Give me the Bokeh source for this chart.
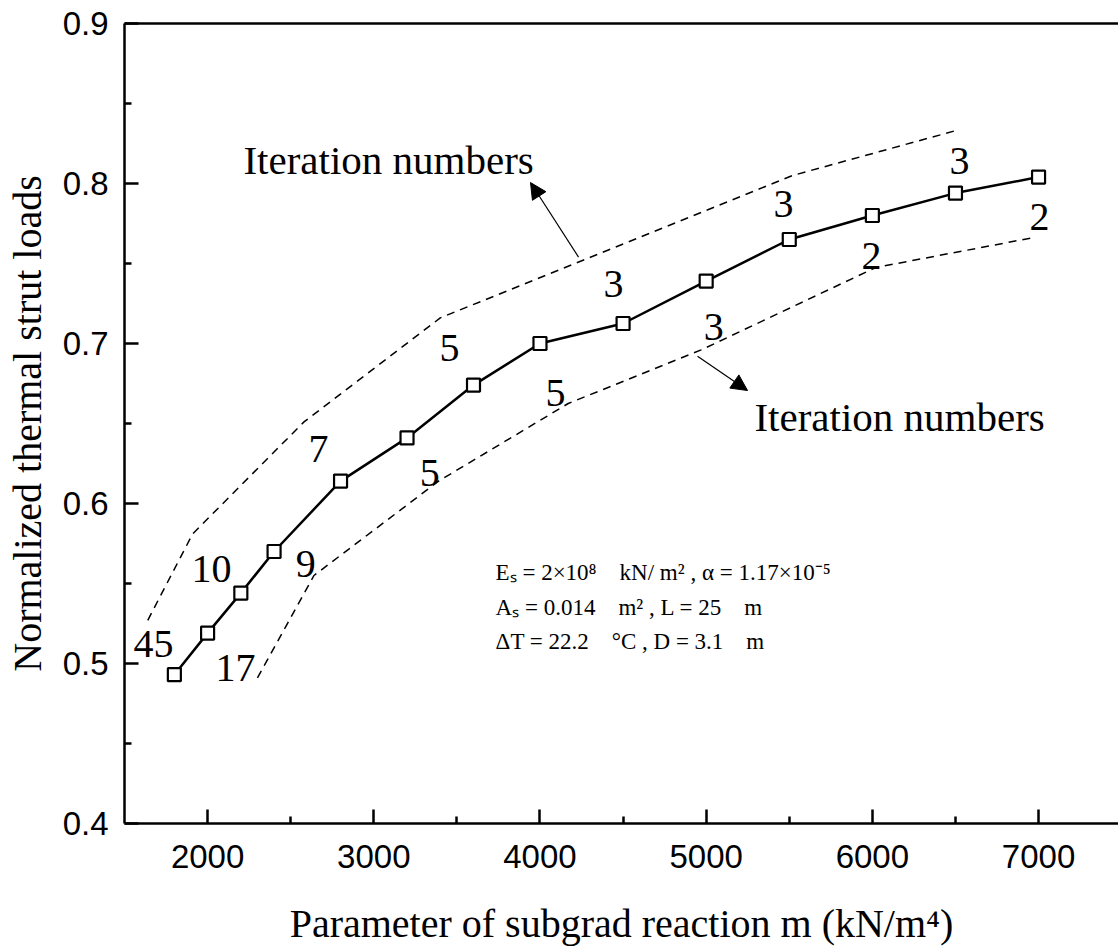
from bokeh.plotting import figure
from bokeh.models import (Range1d, FixedTicker, LinearAxis, Arrow, NormalHead,
                          ColumnDataSource)
from bokeh.core.properties import value
from bokeh.embed import file_html
from bokeh.resources import INLINE

# ---- data ----
m_values = [1800, 2000, 2200, 2400, 2800, 3200, 3600, 4000, 4500, 5000, 5500, 6000, 6500, 7000]
strut_loads = [0.493, 0.519, 0.544, 0.570, 0.614, 0.641, 0.674, 0.700, 0.7125, 0.739,
               0.765, 0.780, 0.794, 0.804]

upper_x = [1640, 1910, 2580, 3400, 5520, 6500]
upper_y = [0.527, 0.581, 0.651, 0.716, 0.805, 0.833]

lower_x = [2300, 2640, 3390, 4170, 4970, 6020, 6960]
lower_y = [0.491, 0.555, 0.614, 0.6625, 0.696, 0.7475, 0.766]

upper_iter_x = [1675, 2024, 2668, 3456, 4443, 5465, 6525]
upper_iter_y = [0.512, 0.559, 0.634, 0.6975, 0.7375, 0.7875, 0.814]
upper_iter_txt = ["45", "10", "7", "5", "3", "3", "3"]

lower_iter_x = [2168, 2590, 3336, 4094, 5045, 5995, 7006]
lower_iter_y = [0.4975, 0.562, 0.619, 0.669, 0.7106, 0.7544, 0.779]
lower_iter_txt = ["17", "9", "5", "5", "3", "2", "2"]

annot_text = ["Iteration numbers", "Iteration numbers"]
annot_x = [3089, 6164]
annot_y = [0.8144, 0.654]

arrow_start_x = [4232, 4948]
arrow_start_y = [0.754, 0.692]
arrow_end_x = [3943, 5249]
arrow_end_y = [0.8006, 0.6706]

NB = "\u00a0"
formula_lines = ["E\u209b = 2\u00d710\u2078" + NB * 4 + "kN/ m\u00b2 , \u03b1 = 1.17\u00d710\u207b\u2075",
                 "A\u209b = 0.014" + NB * 4 + "m\u00b2 , L = 25" + NB * 4 + "m",
                 "\u0394T = 22.2" + NB * 4 + "\u00b0C , D = 3.1" + NB * 4 + "m"]
formula_x = [3733, 3733, 3733]
formula_y = [0.5569, 0.535, 0.5138]

x_ticks = [2000, 3000, 4000, 5000, 6000, 7000]
x_minor = [2500, 3500, 4500, 5500, 6500]
y_ticks = [0.4, 0.5, 0.6, 0.7, 0.8, 0.9]
y_minor = [0.45, 0.55, 0.65, 0.75, 0.85]

SERIF = "Liberation Serif"
SANS = "Liberation Sans"

p = figure(width=1118, height=949, output_backend="svg", toolbar_location=None,
           x_range=Range1d(1500, 7481), y_range=Range1d(0.4, 0.9),
           min_border_left=124, min_border_right=0, min_border_top=23, min_border_bottom=126)
p.outline_line_color = None
p.grid.visible = False
p.background_fill_color = "white"
p.border_fill_color = "white"

for ax, ticks, minor in ((p.xaxis[0], x_ticks, x_minor), (p.yaxis[0], y_ticks, y_minor)):
    ax.ticker = FixedTicker(ticks=ticks, minor_ticks=minor)
    ax.axis_line_width = 2.5
    ax.major_tick_line_width = 2.5
    ax.minor_tick_line_width = 2.5
    ax.major_tick_in = 14
    ax.major_tick_out = 0
    ax.minor_tick_in = 7
    ax.minor_tick_out = 0
    ax.major_label_text_font = SANS
    ax.major_label_text_font_size = "33px"
    ax.major_label_text_color = "black"
    ax.axis_label_text_font = SERIF
    ax.axis_label_text_font_size = "40px"
    ax.axis_label_text_font_style = "normal"
    ax.axis_label_text_color = "black"

p.xaxis[0].major_label_standoff = 21
p.yaxis[0].major_label_standoff = 16
p.xaxis[0].axis_label = "Parameter of subgrad reaction m (kN/m\u2074)"
p.yaxis[0].axis_label = "Normalized thermal strut loads"
p.xaxis[0].axis_label_standoff = 30
p.yaxis[0].axis_label_standoff = 10

top = LinearAxis(axis_line_width=2.5, major_tick_line_color=None, minor_tick_line_color=None,
                 major_label_text_font_size="0px", ticker=FixedTicker(ticks=[]))
p.add_layout(top, "above")

# dashed envelopes
p.line(upper_x, upper_y, line_color="black", line_width=1.5, line_dash="8 6")
p.line(lower_x, lower_y, line_color="black", line_width=1.5, line_dash="8 6")

# main series
p.line(m_values, strut_loads, line_color="black", line_width=2.5)
p.scatter(m_values, strut_loads, marker="square", size=13, line_color="black",
          line_width=2.2, fill_color="white")

# iteration-number labels
src_u = ColumnDataSource(dict(x=upper_iter_x, y=upper_iter_y, t=upper_iter_txt))
src_l = ColumnDataSource(dict(x=lower_iter_x, y=lower_iter_y, t=lower_iter_txt))
for src in (src_u, src_l):
    p.text(x="x", y="y", text="t", source=src, text_font=value(SERIF), text_font_size="40px",
           text_align="center", text_baseline="middle", text_color="black")

src_a = ColumnDataSource(dict(x=annot_x, y=annot_y, t=annot_text))
p.text(x="x", y="y", text="t", source=src_a, text_font=value(SERIF), text_font_size="41px",
       text_align="center", text_baseline="middle", text_color="black")

for xs, ys, xe, ye in zip(arrow_start_x, arrow_start_y, arrow_end_x, arrow_end_y):
    p.add_layout(Arrow(end=NormalHead(size=16, fill_color="black", line_color="black", line_width=1),
                       x_start=xs, y_start=ys, x_end=xe, y_end=ye,
                       line_color="black", line_width=1.2))

src_f = ColumnDataSource(dict(x=formula_x, y=formula_y, t=formula_lines))
p.text(x="x", y="y", text="t", source=src_f, text_font=value(SERIF), text_font_size="23px",
       text_align="left", text_baseline="middle", text_color="black")

open("out.html", "w").write(file_html(p, INLINE))
